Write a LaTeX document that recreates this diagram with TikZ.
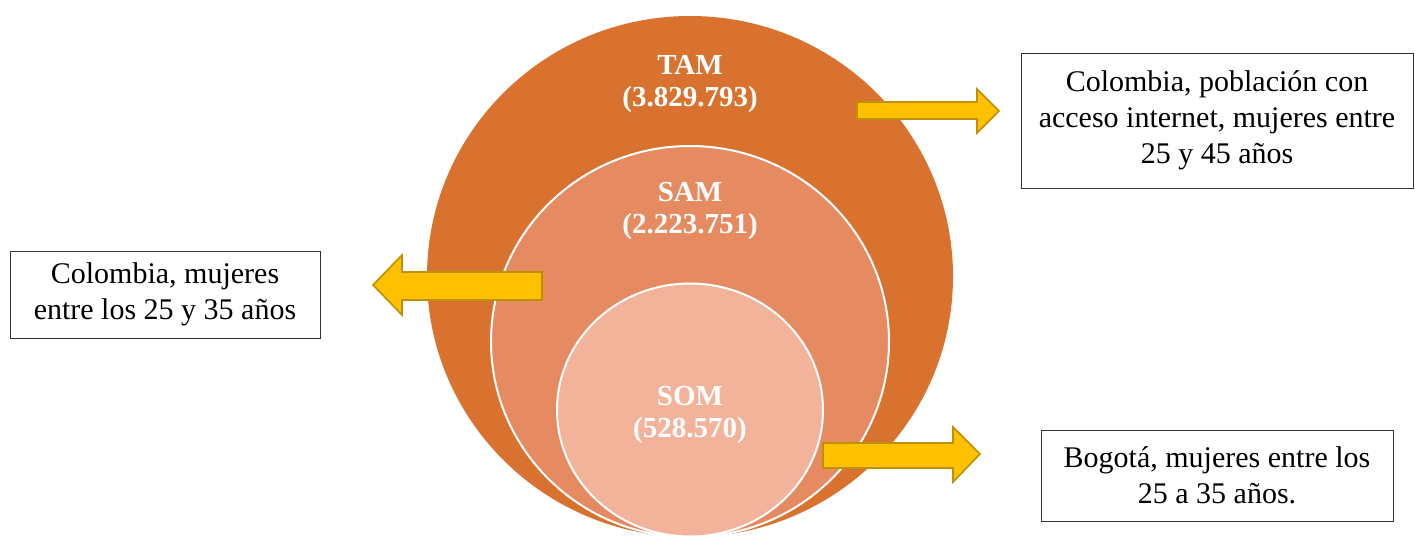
\documentclass[tikz,border=0pt]{standalone}
\usepackage{fontspec}
\setmainfont{Liberation Serif}
\definecolor{tamorange}{HTML}{D8722E}
\definecolor{samorange}{HTML}{E68B61}
\definecolor{sompeach}{HTML}{F3B39B}
\definecolor{arrowfill}{HTML}{FFC000}
\definecolor{arrowedge}{HTML}{BF9000}
\tikzset{
  ring/.style={draw=white, line width=2pt},
  marketlabel/.style={text=white, font=\fontsize{29}{31.5}\selectfont\bfseries, align=center, inner sep=0pt},
  infobox/.style={draw=black!80, line width=0.9pt, inner sep=0pt, align=center, font=\fontsize{30}{36}\selectfont},
  blockarrow/.style={fill=arrowfill, draw=arrowedge, line width=1.6pt, line join=miter}
}
\begin{document}
\begin{tikzpicture}[x=1pt,y=-1pt]
\useasboundingbox (0,0) rectangle (1415,537);

% Nested circles
\fill[tamorange] (690,276.5) ellipse [x radius=263, y radius=260.5];
\filldraw[samorange, ring] (690,341.5) ellipse [x radius=199, y radius=195.5];
\filldraw[sompeach, ring] (690,410) ellipse [x radius=133, y radius=126.5];

% Market labels
\node[marketlabel] (tam) at (690,84) {TAM\\(3.829.793)};
\node[marketlabel] (sam) at (690,211) {SAM\\(2.223.751)};
\node[marketlabel] (som) at (690,415) {SOM\\(528.570)};

% Block arrows
\draw[blockarrow] (857,102) -- (977,102) -- (977,89) -- (999,111) -- (977,133) -- (977,119) -- (857,119) -- cycle;
\draw[blockarrow] (542,272) -- (402,272) -- (402,255) -- (373,285) -- (402,315) -- (402,300) -- (542,300) -- cycle;
\draw[blockarrow] (823,443) -- (953,443) -- (953,427) -- (980,454) -- (953,482) -- (953,468) -- (823,468) -- cycle;

% Description boxes
\node[infobox, minimum width=392pt, minimum height=135pt] (tambox) at (1217,120.5)
  {Colombia, población con\\acceso internet, mujeres entre\\25 y 45 años};
\node[infobox, minimum width=310pt, minimum height=87pt] (sambox) at (165,294.5)
  {\fontsize{30}{38}\selectfont Colombia, mujeres\\entre los 25 y 35 años};
\node[infobox, minimum width=352pt, minimum height=91pt] (sombox) at (1217,475.5)
  {Bogotá, mujeres entre los\\25 a 35 años.};

\end{tikzpicture}
\end{document}
